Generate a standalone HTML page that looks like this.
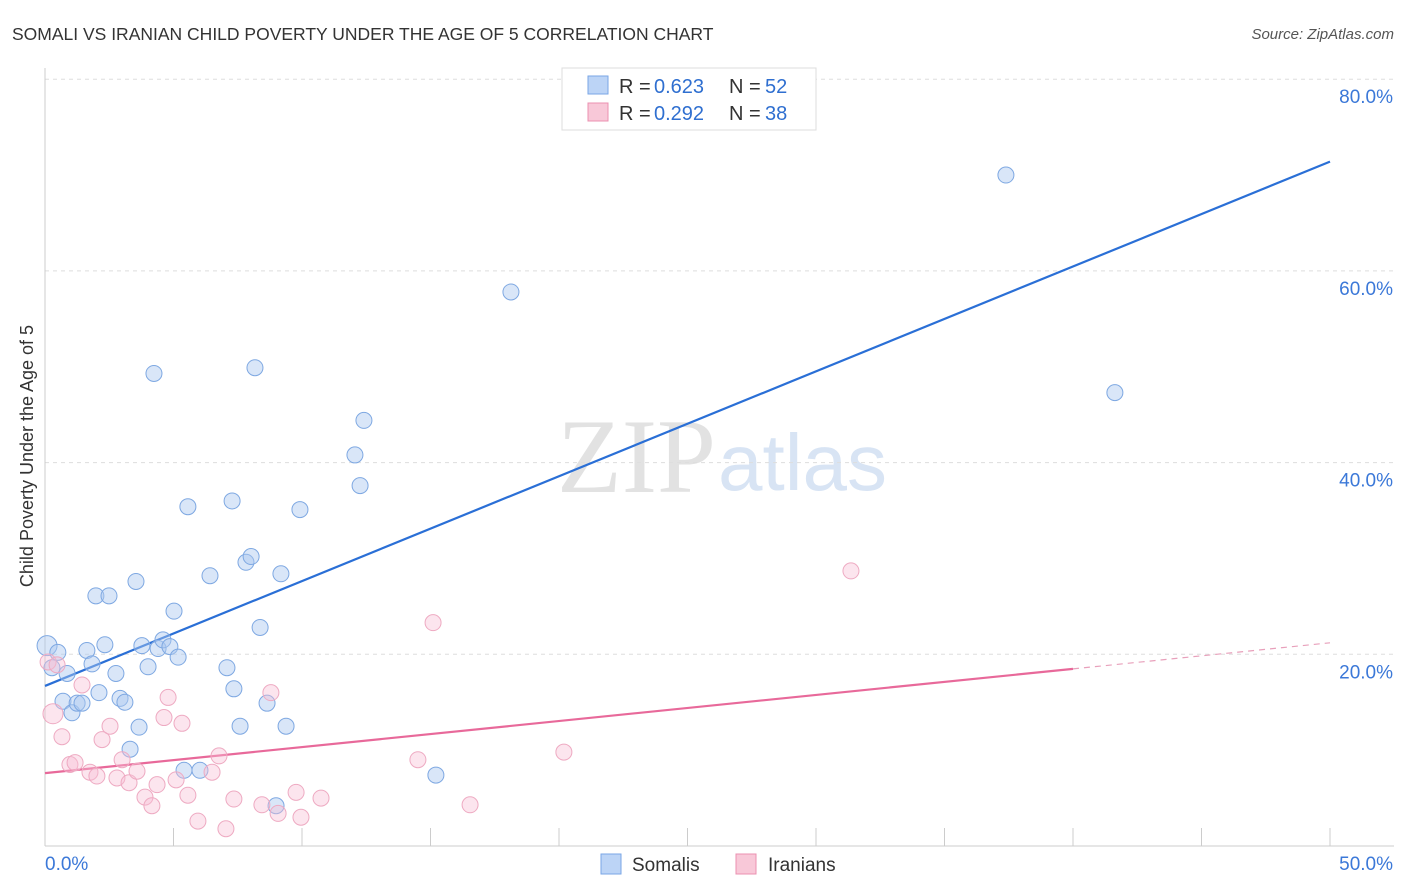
<!DOCTYPE html>
<html><head><meta charset="utf-8">
<style>
body{margin:0;background:#fff;font-family:"Liberation Sans",sans-serif;}
#wrap{position:relative;width:1406px;height:892px;overflow:hidden;}
</style></head>
<body>
<div id="wrap">
<svg id="chart" width="1406" height="892" xmlns="http://www.w3.org/2000/svg">
<text x="12" y="40" font-size="17.5" fill="#333">SOMALI VS IRANIAN CHILD POVERTY UNDER THE AGE OF 5 CORRELATION CHART</text>
<text x="1394" y="39" font-size="15" fill="#555" font-style="italic" text-anchor="end">Source: ZipAtlas.com</text>
<text x="0" y="0" transform="translate(33,456) rotate(-90)" font-size="18" fill="#333" text-anchor="middle">Child Poverty Under the Age of 5</text>
<text x="716" y="492" font-size="106" fill="#e2e2e2" font-family="Liberation Serif,serif" text-anchor="end">ZIP</text>
<text x="718" y="490" font-size="80" fill="#d8e4f4">atlas</text>
<g id="grid"></g>
<g id="axes"></g>
<g id="lines"></g>
<g id="points"></g>
<g>
<rect x="562" y="68" width="254" height="62" fill="#fff" stroke="#ddd"/>
<rect x="588" y="76" width="20" height="18" fill="#bcd4f6" stroke="#7aa6e6"/>
<text x="619" y="93" font-size="20" fill="#333">R =</text>
<text x="654" y="93" font-size="20" fill="#2f6fd0">0.623</text>
<text x="729" y="93" font-size="20" fill="#333">N =</text>
<text x="765" y="93" font-size="20" fill="#2f6fd0">52</text>
<rect x="588" y="103" width="20" height="18" fill="#f8c8d8" stroke="#eb90b0"/>
<text x="619" y="120" font-size="20" fill="#333">R =</text>
<text x="654" y="120" font-size="20" fill="#2f6fd0">0.292</text>
<text x="729" y="120" font-size="20" fill="#333">N =</text>
<text x="765" y="120" font-size="20" fill="#2f6fd0">38</text>
</g>
<g>
<rect x="601" y="854" width="20" height="20" fill="#bcd4f6" stroke="#7aa6e6"/>
<text x="632" y="871" font-size="19" fill="#333">Somalis</text>
<rect x="736" y="854" width="20" height="20" fill="#f8c8d8" stroke="#eb90b0"/>
<text x="768" y="871" font-size="19" fill="#333">Iranians</text>
</g>
</svg>
</div>
<script>
const yTicks=[20,40,60,80];
const yTickLabels=["20.0%","40.0%","60.0%","80.0%"];
const xTickValues=[0,5,10,15,20,25,30,35,40,45,50];
const xEndLabels=["0.0%","50.0%"];
const somaliX=[0.08,0.27,0.5,0.86,0.7,1.05,1.25,1.44,1.63,1.83,2.1,1.98,2.49,2.33,2.76,2.92,3.11,3.31,3.54,3.66,3.77,4.01,4.24,4.4,4.59,4.86,5.02,5.18,5.41,5.56,6.03,6.42,7.08,7.28,7.35,7.59,7.82,8.02,8.17,8.37,8.64,8.99,9.18,9.38,9.92,12.06,12.26,12.41,15.21,18.13,37.39,41.63];
const somaliY=[20.9,18.6,20.2,18.0,15.1,13.9,14.9,14.9,20.4,19.0,16.0,26.1,26.1,21.0,18.0,15.4,15.0,10.1,27.6,12.4,20.9,18.7,49.3,20.6,21.5,20.8,24.5,19.7,7.9,35.4,7.9,28.2,18.6,36.0,16.4,12.5,29.6,30.2,49.9,22.8,14.9,4.2,28.4,12.5,35.1,40.8,37.6,44.4,7.4,57.8,70.0,47.3];
const iranX=[0.12,0.31,0.47,0.66,0.97,1.17,1.44,1.75,2.02,2.22,2.53,2.8,3.0,3.27,3.58,3.89,4.16,4.36,4.63,4.79,5.1,5.33,5.56,5.95,6.5,6.77,7.04,7.35,8.44,8.79,9.07,9.77,9.96,10.74,14.51,15.1,16.54,20.19,31.36];
const iranY=[19.2,13.8,18.9,11.4,8.5,8.7,16.8,7.7,7.3,11.1,12.5,7.1,9.0,6.6,7.8,5.1,4.2,6.4,13.4,15.5,6.9,12.8,5.3,2.6,7.7,9.4,1.8,4.9,4.3,16.0,3.4,5.6,3.0,5.0,9.0,23.3,4.3,9.8,28.7];
const somaliFit=[16.7,1.094];
const iranFit=[7.6,0.272];
const iranFitSolidEnd=40;

const NS="http://www.w3.org/2000/svg";
const X=v=>45+v*25.7;
const Y=v=>846-v*9.585;
function mk(tag,attrs,parent){const e=document.createElementNS(NS,tag);for(const k in attrs)e.setAttribute(k,attrs[k]);parent.appendChild(e);return e;}
const grid=document.getElementById('grid'),axes=document.getElementById('axes'),lines=document.getElementById('lines'),pts=document.getElementById('points');
yTicks.forEach((t,i)=>{
 const l=mk('line',{x1:45,x2:1394,y1:Y(t),y2:Y(t),stroke:'#ddd','stroke-dasharray':'4,4'},grid);
 
 
 const tx=mk('text',{x:1393,y:Y(t)+24,'font-size':19,fill:'#3b78d8','text-anchor':'end'},axes);
 tx.textContent=yTickLabels[i];
 
 
});
const ax=mk('line',{x1:45,x2:1394,y1:846,y2:846,stroke:'#ccc'},axes);


const ay=mk('line',{x1:45,x2:45,y1:68,y2:846,stroke:'#ccc'},axes);


xTickValues.forEach(v=>{
 const t=mk('line',{x1:X(v),x2:X(v),y1:828,y2:846,stroke:'#ccc'},axes);
 
 
});
const xl0=mk('text',{x:45,y:870,'font-size':19,fill:'#3b78d8'},axes);xl0.textContent=xEndLabels[0];


const xl1=mk('text',{x:1393,y:870,'font-size':19,fill:'#3b78d8','text-anchor':'end'},axes);xl1.textContent=xEndLabels[1];



somaliX.forEach((x,i)=>{
 const c=mk('circle',{cx:X(x),cy:Y(somaliY[i]),r:i===0?10:8,fill:'rgba(170,200,240,0.45)',stroke:'#7ea8e2','stroke-width':1},pts);
 
 
});
iranX.forEach((x,i)=>{
 const c=mk('circle',{cx:X(x),cy:Y(iranY[i]),r:i===1?10:8,fill:'rgba(248,190,212,0.4)',stroke:'#eeaac2','stroke-width':1},pts);
 
 
});
const bl=mk('line',{x1:X(0),y1:Y(somaliFit[0]),x2:X(50),y2:Y(somaliFit[0]+somaliFit[1]*50),stroke:'#2a6fd6','stroke-width':2.2},lines);


const pl=mk('line',{x1:X(0),y1:Y(iranFit[0]),x2:X(iranFitSolidEnd),y2:Y(iranFit[0]+iranFit[1]*iranFitSolidEnd),stroke:'#e8699a','stroke-width':2.2},lines);


const pd=mk('line',{x1:X(iranFitSolidEnd),y1:Y(iranFit[0]+iranFit[1]*iranFitSolidEnd),x2:X(50),y2:Y(iranFit[0]+iranFit[1]*50),stroke:'#e8a0bb','stroke-width':1.2,'stroke-dasharray':'6,5'},lines);


</script>
</body></html>
